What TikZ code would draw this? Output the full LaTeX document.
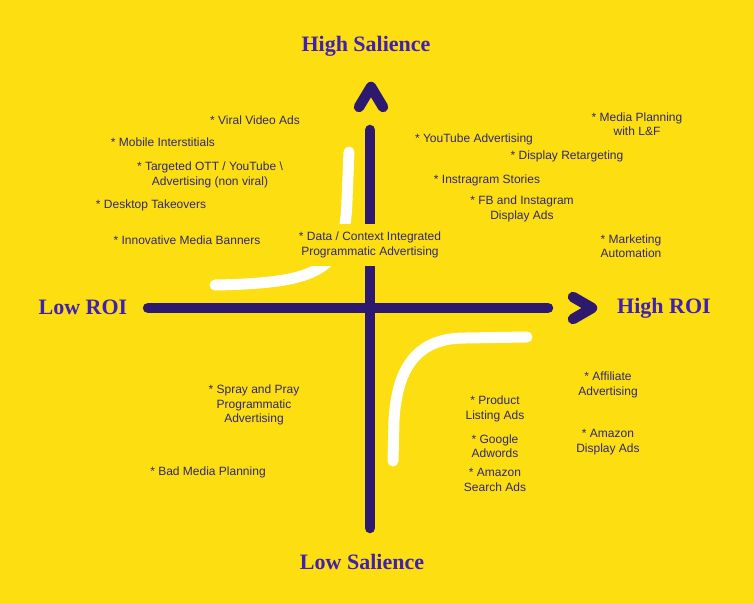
\documentclass[tikz,border=0pt]{standalone}
\usepackage{fontspec}
\setmainfont{Liberation Sans}
\newfontfamily\polefont{Liberation Serif}

\definecolor{bgyellow}{RGB}{252,222,17}
\definecolor{axisblue}{RGB}{45,25,110}
\definecolor{poletext}{RGB}{64,32,176}
\definecolor{itemtext}{RGB}{50,40,112}

\tikzset{
  item/.style={align=center,text=itemtext,inner sep=1pt,font=\fontsize{12}{14.5}\selectfont},
  pole/.style={text=poletext,inner sep=0pt,font=\polefont\bfseries\fontsize{22}{26}\selectfont},
  axis/.style={draw=axisblue,line width=10.5pt,line cap=round,line join=round},
  trend/.style={draw=white,line width=11pt,line cap=round},
}

\begin{document}
\begin{tikzpicture}[x=1pt,y=-1pt]
\fill[bgyellow] (0,0) rectangle (754,604);

% white trend curves
\draw[trend] (349,152) -- (347,200) .. controls (345,270) and (320,283) .. (215,285);
\draw[trend] (527,337) -- (465,338) .. controls (415,338) and (397,370) .. (394,420) -- (393,461);

% axes
\coordinate (west) at (148,308);
\coordinate (east) at (548,308);
\coordinate (north) at (370,130);
\coordinate (south) at (370,528);
\coordinate (ntip) at (371,87);
\coordinate (etip) at (592,308);
\draw[axis] (west) -- (east);
\draw[axis] (south) -- (north);
\draw[axis] (ntip) ++(-12,20) -- (ntip) -- ++(12,20);
\draw[axis] (etip) ++(-19,-11) -- (etip) -- ++(-19,11);

\node[pole] (highsal) at (366,46) {High Salience};
\node[pole] (lowsal) at (362,562) {Low Salience};
\node[pole] (lowroi) at (83,307) {Low ROI};
\node[pole] (highroi) at (664,308) {High ROI};

% low ROI, high salience
\node[item] (viral) at (255,120) {* Viral Video Ads};
\node[item] (mobile) at (163,142) {* Mobile Interstitials};
\node[item] (ott) at (210,175) {* Targeted OTT / YouTube \textbackslash\\Advertising (non viral)};
\node[item] (desktop) at (151,205) {* Desktop Takeovers};
\node[item] (banners) at (187,240) {* Innovative Media Banners};
\node[item,fill=bgyellow,inner xsep=3pt,inner ysep=8pt] (datactx) at (370,245) {* Data / Context Integrated\\Programmatic Advertising};

% high ROI, high salience
\node[item] (youtube) at (474,139) {* YouTube Advertising};
\node[item] (mediaplan) at (637,124) {* Media Planning\\with L\&F};
\node[item] (retarget) at (567,156) {* Display Retargeting};
\node[item] (stories) at (487,180) {* Instragram Stories};
\node[item] (fbinsta) at (522,209) {* FB and Instagram\\Display Ads};
\node[item] (marketing) at (631,246) {* Marketing\\Automation};

% low ROI, low salience
\node[item] (spray) at (254,405) {* Spray and Pray\\Programmatic\\Advertising};
\node[item] (badmedia) at (208,472) {* Bad Media Planning};

% high ROI, low salience
\node[item] (product) at (495,409) {* Product\\Listing Ads};
\node[item] (google) at (495,446) {* Google\\Adwords};
\node[item] (amzsearch) at (495,480) {* Amazon\\Search Ads};
\node[item] (affiliate) at (608,385) {* Affiliate\\Advertising};
\node[item] (amzdisplay) at (608,442) {* Amazon\\Display Ads};
\end{tikzpicture}
\end{document}
